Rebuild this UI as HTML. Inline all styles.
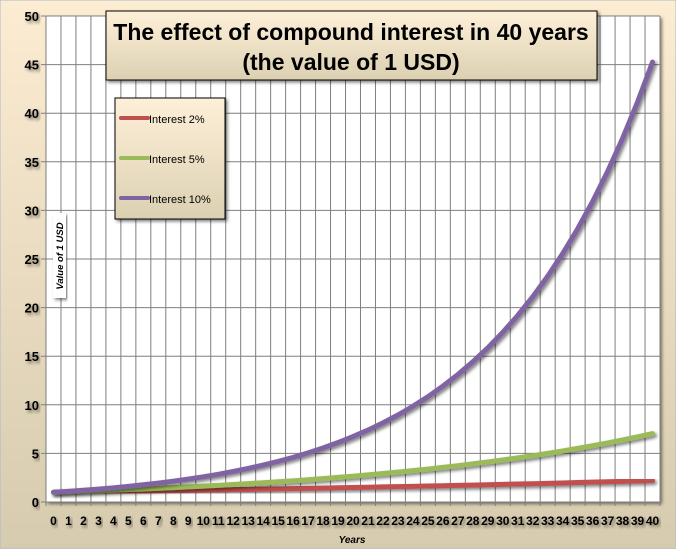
<!DOCTYPE html>
<html><head><meta charset="utf-8"><style>
body{margin:0;width:676px;height:549px;overflow:hidden;font-family:"Liberation Sans",sans-serif}
svg text{font-family:"Liberation Sans",sans-serif}
</style></head><body>
<svg id="c" width="676" height="549">
<defs>
<linearGradient id="bg" x1="0" y1="0" x2="0" y2="1"><stop offset="0" stop-color="#fcecd2"/><stop offset="1" stop-color="#d6cbaf"/></linearGradient>
<linearGradient id="bx" x1="0" y1="0" x2="0" y2="1"><stop offset="0" stop-color="#fdf0d8"/><stop offset="1" stop-color="#dcd0b2"/></linearGradient>
<filter id="sh"><feDropShadow dx="2" dy="2" stdDeviation="1.5" flood-color="#000" flood-opacity="0.5"/></filter>
</defs>
<rect x="0" y="0" width="676" height="549" fill="url(#bg)" stroke="#b0b8c8"/>
<rect x="46" y="16" width="614" height="486" fill="#fff" filter="url(#sh)"/>
<g id="grid"></g><g id="axes"></g><g id="series"></g>
<g>
<rect x="106" y="11" width="491" height="69" fill="url(#bx)" stroke="#000" filter="url(#sh)"/>
<text x="351" y="40" text-anchor="middle" font-size="23" font-weight="bold">The effect of compound interest in 40 years</text>
<text x="351" y="70" text-anchor="middle" font-size="23" font-weight="bold">(the value of 1 USD)</text>
</g>
<g>
<rect x="115" y="98" width="110" height="121" fill="url(#bx)" stroke="#000" filter="url(#sh)"/>
<g><line x1="121" y1="118" x2="148" y2="118" stroke="#c0504d" stroke-width="4" stroke-linecap="round"/><text x="149" y="123" font-size="11">Interest 2%</text></g>
<g><line x1="121" y1="158" x2="148" y2="158" stroke="#9bbb59" stroke-width="4" stroke-linecap="round"/><text x="149" y="163" font-size="11">Interest 5%</text></g>
<g><line x1="121" y1="198" x2="148" y2="198" stroke="#8064a2" stroke-width="4" stroke-linecap="round"/><text x="149" y="203" font-size="11">Interest 10%</text></g>
</g>
<g>
<rect x="53" y="213" width="13" height="85" fill="#fff" filter="url(#sh)"/>
<text transform="translate(63,256) rotate(-90)" text-anchor="middle" font-size="9.5" font-weight="bold" font-style="italic">Value of 1 USD</text>
</g>
<text x="352" y="543" text-anchor="middle" font-size="10" font-weight="bold" font-style="italic">Years</text>
</svg>
<script>
const years=[0,1,2,3,4,5,6,7,8,9,10,11,12,13,14,15,16,17,18,19,20,21,22,23,24,25,26,27,28,29,30,31,32,33,34,35,36,37,38,39,40];
const yTicks=[0,5,10,15,20,25,30,35,40,45,50];
const interest2=[1,1.02,1.04,1.06,1.08,1.10,1.13,1.15,1.17,1.20,1.22,1.24,1.27,1.29,1.32,1.35,1.37,1.40,1.43,1.46,1.49,1.52,1.55,1.58,1.61,1.64,1.67,1.71,1.74,1.78,1.81,1.85,1.88,1.92,1.96,2.00,2.04,2.08,2.12,2.16,2.21];
const interest5=[1,1.05,1.10,1.16,1.22,1.28,1.34,1.41,1.48,1.55,1.63,1.71,1.80,1.89,1.98,2.08,2.18,2.29,2.41,2.53,2.65,2.79,2.93,3.07,3.23,3.39,3.56,3.73,3.92,4.12,4.32,4.54,4.76,5.00,5.25,5.52,5.79,6.08,6.39,6.70,7.04];
const interest10=[1,1.1,1.21,1.33,1.46,1.61,1.77,1.95,2.14,2.36,2.59,2.85,3.14,3.45,3.80,4.18,4.59,5.05,5.56,6.12,6.73,7.40,8.14,8.95,9.85,10.83,11.92,13.11,14.42,15.86,17.45,19.19,21.11,23.23,25.55,28.10,30.91,34.00,37.40,41.14,45.26];
const L=46,R=660,T=16,B=502,NS="http://www.w3.org/2000/svg";
const bw=(R-L)/years.length;
const xc=i=>L+bw*(i+0.5);
const ys=v=>B-(v/50)*(B-T);
function mk(tag,attrs,parent){const e=document.createElementNS(NS,tag);for(const k in attrs)e.setAttribute(k,attrs[k]);parent.appendChild(e);return e;}
const grid=document.getElementById('grid'),axes=document.getElementById('axes'),ser=document.getElementById('series');
for(let i=0;i<=years.length;i++){const x=L+bw*i;const g=mk('line',{x1:x,y1:T,x2:x,y2:B+4,stroke:'#7f7f7f','stroke-width':1},grid);

}
yTicks.forEach(v=>{const y=ys(v);const g=mk('line',{x1:L-5,y1:y,x2:R,y2:y,stroke:'#7f7f7f','stroke-width':1},grid);


const t=mk('text',{x:L-7,y:y+5,'text-anchor':'end','font-size':13,'font-weight':'bold',filter:'url(#sh)'},axes);t.textContent=v;

});
years.forEach((v,i)=>{const t=mk('text',{x:xc(i),y:525,'text-anchor':'middle','font-size':12,'font-weight':'bold',filter:'url(#sh)'},axes);t.textContent=v;

});
[[interest2,'#c0504d','series-interest-2'],[interest5,'#9bbb59','series-interest-5'],[interest10,'#8064a2','series-interest-10']].forEach(([d,c,n])=>{
const p=mk('polyline',{points:d.map((v,i)=>xc(i)+','+ys(v)).join(' '),fill:'none',stroke:c,'stroke-width':5,'stroke-linecap':'round','stroke-linejoin':'round',filter:'url(#sh)'},ser);

});
</script>
</body></html>
